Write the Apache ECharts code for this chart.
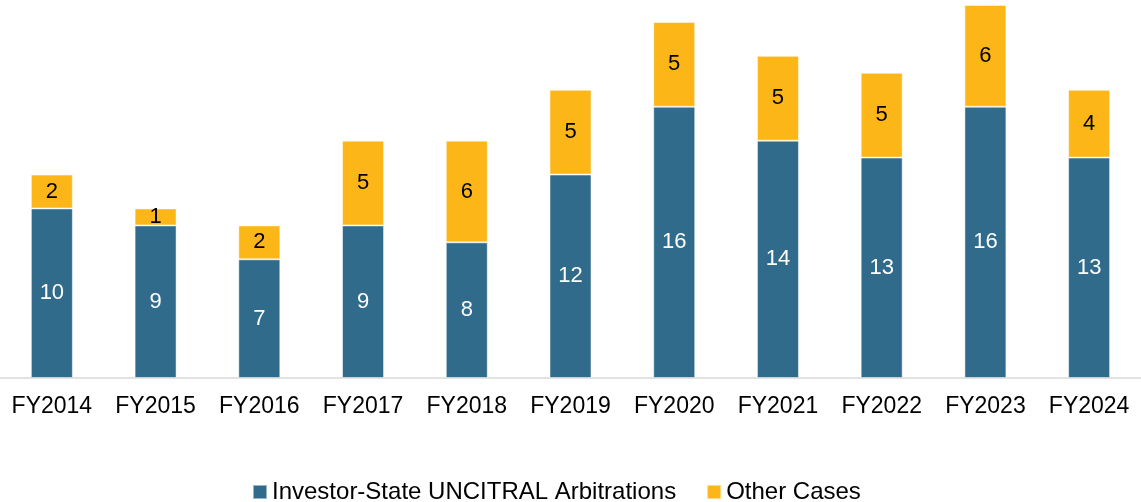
<!DOCTYPE html>
<html lang="en">
<head>
    <meta charset="UTF-8">
    <title>UNCITRAL cases</title>
    <style>
        html, body { margin: 0; padding: 0; background: #ffffff; }
        #chart { width: 1141px; height: 502px; }
    </style>
</head>
<body>
<div id="chart"></div>
<script src="https://cdn.jsdelivr.net/npm/echarts@6/dist/echarts.min.js"></script>
<script>
    var years = ['FY2014', 'FY2015', 'FY2016', 'FY2017', 'FY2018', 'FY2019',
                 'FY2020', 'FY2021', 'FY2022', 'FY2023', 'FY2024'];
    var arbitrations = [10, 9, 7, 9, 8, 12, 16, 14, 13, 16, 13];
    var otherCases = [2, 1, 2, 5, 6, 5, 5, 5, 5, 6, 4];

    var fontName = '"Liberation Sans", Arial, sans-serif';

    var myChart = echarts.init(document.getElementById('chart'));

    var option = {
        animation: false,
        grid: {
            left: 0,
            right: -5,
            top: 5,
            bottom: 124
        },
        legend: {
            left: 247,
            top: 475,
            itemWidth: 14,
            itemHeight: 14,
            itemGap: 30,
            icon: 'rect',
            textStyle: {
                fontFamily: fontName,
                fontSize: 24,
                color: '#000000'
            },
            data: ['Investor-State UNCITRAL Arbitrations', 'Other Cases']
        },
        xAxis: {
            type: 'category',
            data: years,
            axisLine: { lineStyle: { color: '#d9d9d9', width: 1.5 } },
            axisTick: { show: false },
            axisLabel: {
                interval: 0,
                margin: 17,
                fontFamily: fontName,
                fontSize: 23,
                color: '#000000'
            }
        },
        yAxis: {
            type: 'value',
            min: 0,
            max: 22,
            show: false,
            splitLine: { show: false }
        },
        series: [{
            name: 'Investor-State UNCITRAL Arbitrations',
            type: 'bar',
            stack: 'total',
            barWidth: 42,
            data: arbitrations,
            itemStyle: {
                color: '#306b8b',
                borderColor: 'rgba(255,255,255,0.5)',
                borderWidth: 1
            },
            label: {
                show: true,
                position: 'inside',
                fontFamily: fontName,
                fontSize: 22,
                color: '#ffffff'
            }
        }, {
            name: 'Other Cases',
            type: 'bar',
            stack: 'total',
            barWidth: 42,
            data: otherCases,
            itemStyle: {
                color: '#fcb618',
                borderColor: 'rgba(255,255,255,0.5)',
                borderWidth: 1
            },
            label: {
                show: true,
                position: 'inside',
                fontFamily: fontName,
                fontSize: 22,
                color: '#000000'
            }
        }]
    };
    myChart.setOption(option);
</script>
</body>
</html>
